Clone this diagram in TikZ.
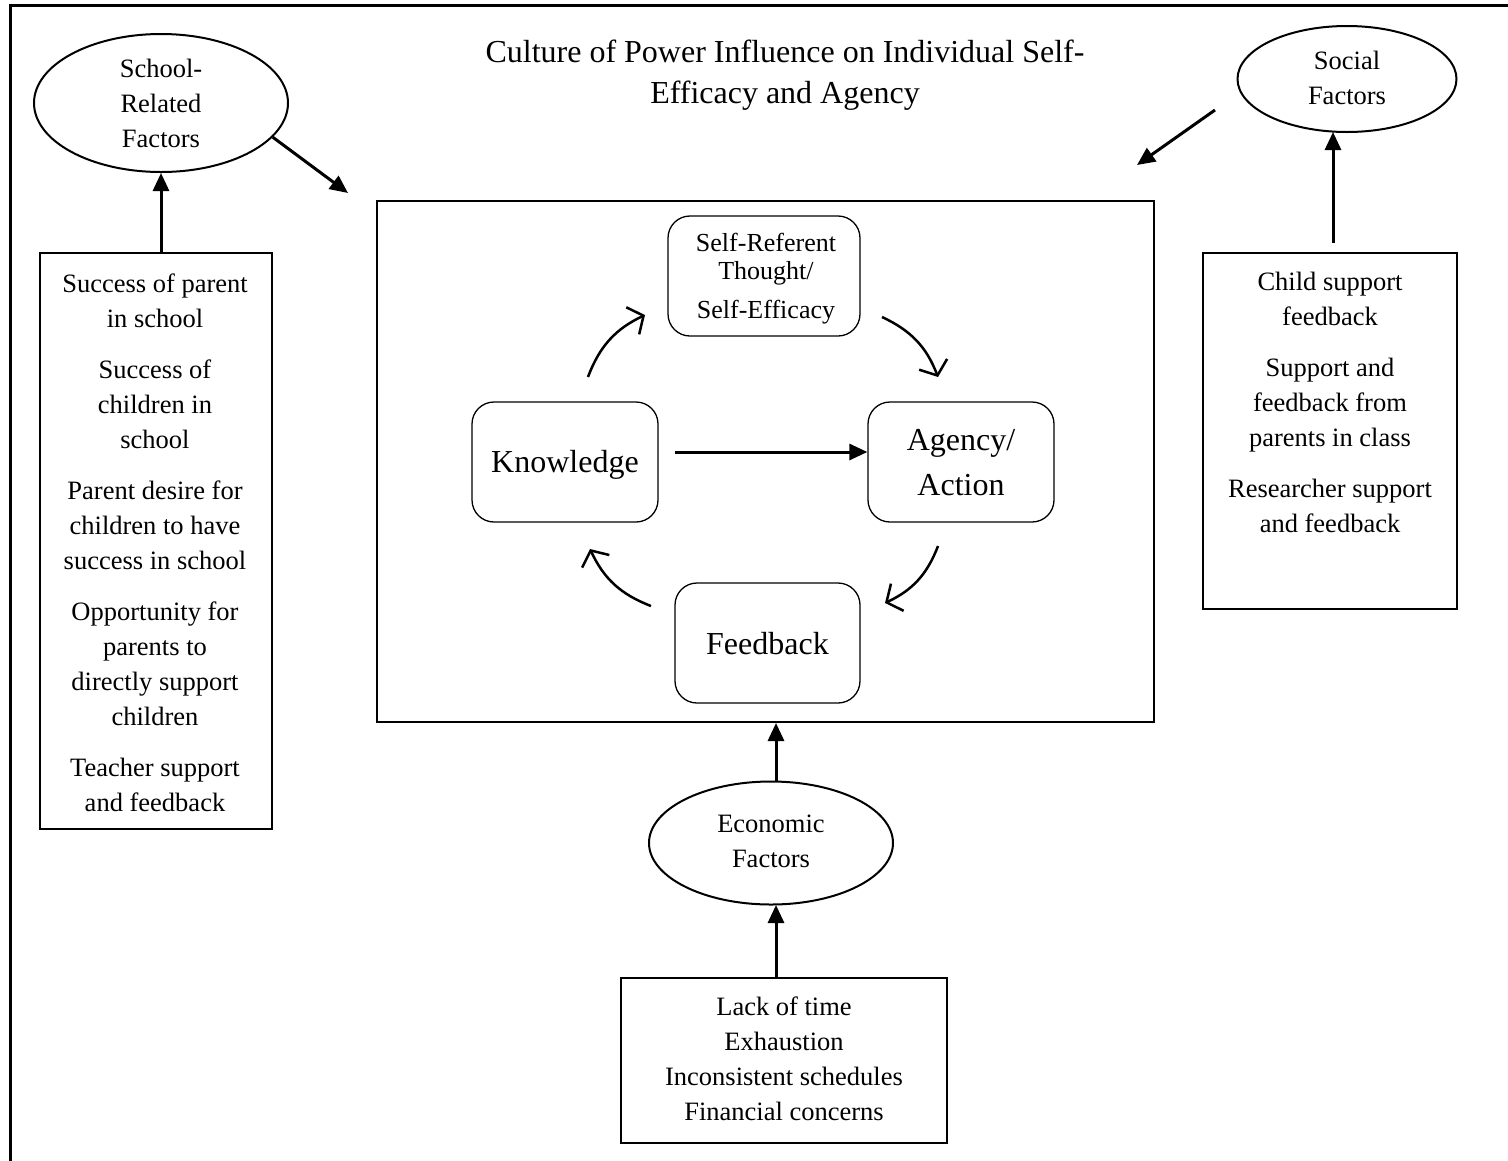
\documentclass[tikz,border=0pt]{standalone}
\usepackage{fontspec}
\setmainfont{Liberation Serif}
\usetikzlibrary{arrows.meta,shapes.geometric}
\begin{document}
\begin{tikzpicture}[x=1pt,y=-1pt,
 txt/.style={font=\fontsize{26.5}{35}\selectfont, align=center, inner sep=0pt, anchor=base},
 frame/.style={draw, line width=2pt, inner sep=0pt},
 rbox/.style={draw, line width=1.3pt, rounded corners=22pt, inner sep=0pt},
 oval/.style={draw, ellipse, line width=2pt, inner sep=0pt},
 arr/.style={line width=3pt, -{Triangle[length=18pt,width=16pt]}},
 cyc/.style={line width=2.5pt, -{Straight Barb[length=12pt,width=30pt]}, bend left=22},
]
\useasboundingbox (0,0) rectangle (1508,1160);
\draw[line width=3pt] (10,1170) -- (10,5) -- (1520,5);

% title
\node[txt, font=\fontsize{32}{41}\selectfont] (title) at (785,103) {Culture of Power Influence on Individual Self-\\Efficacy and Agency};

% ellipses
\node[oval, minimum width=254pt, minimum height=138pt] (school) at (161,103) {};
\node[txt] (schoolt) at (161,147) {School-\\Related\\Factors};
\node[oval, minimum width=219pt, minimum height=106pt] (social) at (1347,79) {};
\node[txt] (socialt) at (1347,104) {Social\\Factors};
\node[oval, minimum width=244pt, minimum height=123pt] (econ) at (771,843) {};
\node[txt] (econt) at (771,867) {Economic\\Factors};

% outer boxes
\node[frame, minimum width=232pt, minimum height=576pt] (lbox) at (156,541) {};
\node[txt] (lboxt) at (155,811) {Success of parent\\in school\\[16pt]Success of\\children in\\school\\[16pt]Parent desire for\\children to have\\success in school\\[16pt]Opportunity for\\parents to\\directly support\\children\\[16pt]Teacher support\\and feedback};
\node[frame, minimum width=254pt, minimum height=356pt] (rbox) at (1330,431) {};
\node[txt] (rboxt) at (1330,532) {Child support\\feedback\\[16pt]Support and\\feedback from\\parents in class\\[16pt]Researcher support\\and feedback};
\node[frame, minimum width=326pt, minimum height=165pt] (bbox) at (784,1060.5) {};
\node[txt] (bboxt) at (784,1120) {Lack of time\\Exhaustion\\Inconsistent schedules\\Financial concerns};

% central box
\node[frame, minimum width=777pt, minimum height=521pt] (main) at (765.5,461.5) {};
\node[rbox, minimum width=192pt, minimum height=120pt] (self) at (764,276) {};
\node[txt, font=\fontsize{26}{28}\selectfont] (selft) at (766,318) {Self-Referent\\Thought/\\[11pt]Self-Efficacy};
\node[rbox, minimum width=186pt, minimum height=120pt] (know) at (565,462) {};
\node[txt, font=\fontsize{32}{45}\selectfont] (knowt) at (565,472) {Knowledge};
\node[rbox, minimum width=186pt, minimum height=120pt] (agency) at (961,462) {};
\node[txt, font=\fontsize{32}{45}\selectfont] (agencyt) at (961,495) {Agency/\\Action};
\node[rbox, minimum width=185pt, minimum height=120pt] (feed) at (767.5,643) {};
\node[txt, font=\fontsize{32}{45}\selectfont] (feedt) at (767.5,654) {Feedback};

% cycle arrows
\coordinate (a1) at (588,377); \coordinate (a2) at (645,315);
\coordinate (b1) at (882,317); \coordinate (b2) at (938,377);
\coordinate (c1) at (938,546); \coordinate (c2) at (885,603);
\coordinate (d1) at (651,606); \coordinate (d2) at (590,549);
\draw[cyc] (a1) to (a2);
\draw[cyc] (b1) to (b2);
\draw[cyc] (c1) to (c2);
\draw[cyc] (d1) to (d2);

% straight arrows
\coordinate (ks) at (675,452);
\draw[arr] (ks) -- (ks -| agency.west);
\coordinate (se) at (348,193);
\draw[arr] (school.-17) -- (se);
\coordinate (ss) at (1215,110); \coordinate (se2) at (1137,165);
\draw[arr] (ss) -- (se2);
\draw[arr] (school.south |- lbox.north) -- (school.south);
\coordinate (sa) at (1333,243);
\draw[arr] (sa) -- (1333,132);
\coordinate (ea) at (776,782);
\draw[arr] (ea) -- (ea |- main.south);
\coordinate (eb) at (776,978);
\draw[arr] (eb) -- (776,905);
\end{tikzpicture}
\end{document}
